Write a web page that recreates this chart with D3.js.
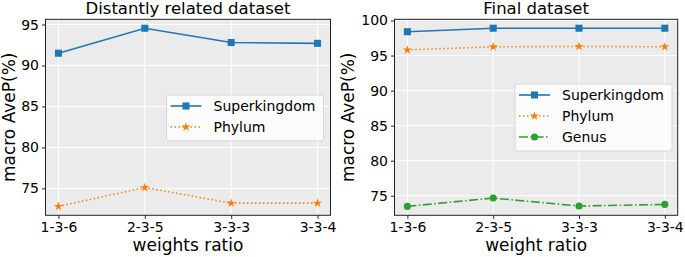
<!DOCTYPE html>
<html>
<head>
<meta charset="utf-8">
<script src="https://cdn.jsdelivr.net/npm/d3@7"></script>
<style>
  body { margin: 0; background: #fff; }
  text { font-family: "DejaVu Sans", sans-serif; fill: #000; }
</style>
</head>
<body>
<div id="chart"></div>
<script>
// categories
const ratios = ["1-3-6", "2-3-5", "3-3-3", "3-3-4"];

// left panel: distantly related dataset
const leftSuperkingdom = [91.5, 94.55, 92.8, 92.7];
const leftPhylum = [72.8, 75.1, 73.2, 73.2];

// right panel: final dataset
const rightSuperkingdom = [98.4, 98.9, 98.9, 98.9];
const rightPhylum = [95.8, 96.25, 96.3, 96.25];
const rightGenus = [73.48, 74.67, 73.53, 73.76];

const leftTicks = [75, 80, 85, 90, 95];
const rightTicks = [75, 80, 85, 90, 95, 100];

const seriesStyle = {
  Superkingdom: {color: "#1f77b4", dash: null, symbol: d3.symbolSquare, size: 50},
  Phylum: {color: "#ff7f0e", dash: "1.5,2.5", symbol: d3.symbolStar, size: 26},
  Genus: {color: "#2ca02c", dash: "9,2.5,1.5,2.5", symbol: d3.symbolCircle, size: 40}
};

const svg = d3.select("#chart").append("svg")
  .attr("width", 685).attr("height", 257);

function panel(opts) {
  const {x0, x1, y0, y1, title, xlabel, series, ticks, legend, ylabelX} = opts;
  const g = svg.append("g");

  const all = series.flatMap(s => s.values);
  const [mn, mx] = d3.extent(all);
  const pad = (mx - mn) * 0.05;

  // matplotlib-like 5% margin on x
  const xs = d3.scaleLinear().domain([-0.15, 3.15]).range([x0, x1]);
  const y = d3.scaleLinear().domain([mn - pad, mx + pad]).range([y1, y0]);

  g.append("rect")
    .attr("x", x0).attr("y", y0)
    .attr("width", x1 - x0).attr("height", y1 - y0)
    .attr("fill", "#ebebeb");

  // grid
  g.selectAll(".gx").data(ratios).enter().append("line")
    .attr("x1", (d, i) => xs(i)).attr("x2", (d, i) => xs(i))
    .attr("y1", y0).attr("y2", y1)
    .attr("stroke", "#fff").attr("stroke-width", 1);
  g.selectAll(".gy").data(ticks).enter().append("line")
    .attr("x1", x0).attr("x2", x1)
    .attr("y1", d => y(d)).attr("y2", d => y(d))
    .attr("stroke", "#fff").attr("stroke-width", 1);

  // axes
  const xAxis = g.append("g")
    .attr("transform", `translate(0,${y1})`)
    .call(d3.axisBottom(d3.scaleOrdinal().domain(ratios).range(ratios.map((d, i) => xs(i))))
      .tickSize(3.5).tickPadding(3));
  xAxis.select(".domain").remove();
  xAxis.selectAll("text").style("font-size", "14px").attr("font-family", "DejaVu Sans");

  const yAxis = g.append("g")
    .attr("transform", `translate(${x0},0)`)
    .call(d3.axisLeft(y).tickValues(ticks).tickSize(3.5).tickPadding(3));
  yAxis.select(".domain").remove();
  yAxis.selectAll("text").style("font-size", "14px").attr("font-family", "DejaVu Sans");
  g.selectAll(".tick line").attr("stroke", "#222");

  // lines and markers
  series.forEach(s => {
    const st = seriesStyle[s.name];
    const line = d3.line().x((d, i) => xs(i)).y(d => y(d));
    g.append("path").datum(s.values)
      .attr("d", line)
      .attr("fill", "none")
      .attr("stroke", st.color)
      .attr("stroke-width", 1.6)
      .attr("stroke-dasharray", st.dash);
    g.selectAll(null).data(s.values).enter().append("path")
      .attr("d", d3.symbol().type(st.symbol).size(st.size))
      .attr("transform", (d, i) => `translate(${xs(i)},${y(d)})`)
      .attr("fill", st.color);
  });

  // frame
  g.append("rect")
    .attr("x", x0).attr("y", y0)
    .attr("width", x1 - x0).attr("height", y1 - y0)
    .attr("fill", "none").attr("stroke", "#222").attr("stroke-width", 1);

  // legend
  const lg = g.append("g");
  lg.append("rect")
    .attr("x", legend.x).attr("y", legend.y)
    .attr("width", legend.w).attr("height", legend.h)
    .attr("rx", 2.5)
    .attr("fill", "#fff").attr("fill-opacity", 0.8)
    .attr("stroke", "#d6d6d6");
  series.forEach((s, i) => {
    const st = seriesStyle[s.name];
    const cy = legend.y + 11 + i * 21;
    const hx0 = legend.x + 4, hx1 = legend.x + 35;
    lg.append("line")
      .attr("x1", hx0).attr("x2", hx1).attr("y1", cy).attr("y2", cy)
      .attr("stroke", st.color).attr("stroke-width", 1.6)
      .attr("stroke-dasharray", st.dash);
    lg.append("path")
      .attr("d", d3.symbol().type(st.symbol).size(st.size))
      .attr("transform", `translate(${(hx0 + hx1) / 2},${cy})`)
      .attr("fill", st.color);
    lg.append("text")
      .attr("x", legend.x + 47).attr("y", cy + 5)
      .style("font-size", "14px")
      .text(s.name);
  });

  // title and labels
  g.append("text")
    .attr("x", (x0 + x1) / 2).attr("y", 14)
    .attr("text-anchor", "middle")
    .style("font-size", "16.5px")
    .text(title);
  g.append("text")
    .attr("x", (x0 + x1) / 2).attr("y", 251)
    .attr("text-anchor", "middle")
    .style("font-size", "17px")
    .text(xlabel);
  g.append("text")
    .attr("transform", `translate(${ylabelX},${(y0 + y1) / 2}) rotate(-90)`)
    .attr("text-anchor", "middle")
    .style("font-size", "17px")
    .text("macro AveP(%)");
}

panel({
  x0: 45.5, x1: 330.5, y0: 19.3, y1: 215.3,
  title: "Distantly related dataset", xlabel: "weights ratio",
  series: [{name: "Superkingdom", values: leftSuperkingdom}, {name: "Phylum", values: leftPhylum}],
  ticks: leftTicks,
  legend: {x: 166.5, y: 95, w: 157, h: 46},
  ylabelX: 15
});

panel({
  x0: 394.5, x1: 677.7, y0: 19.3, y1: 215.3,
  title: "Final dataset", xlabel: "weight ratio",
  series: [{name: "Superkingdom", values: rightSuperkingdom}, {name: "Phylum", values: rightPhylum}, {name: "Genus", values: rightGenus}],
  ticks: rightTicks,
  legend: {x: 515, y: 84, w: 157, h: 67},
  ylabelX: 354
});
</script>
</body>
</html>
